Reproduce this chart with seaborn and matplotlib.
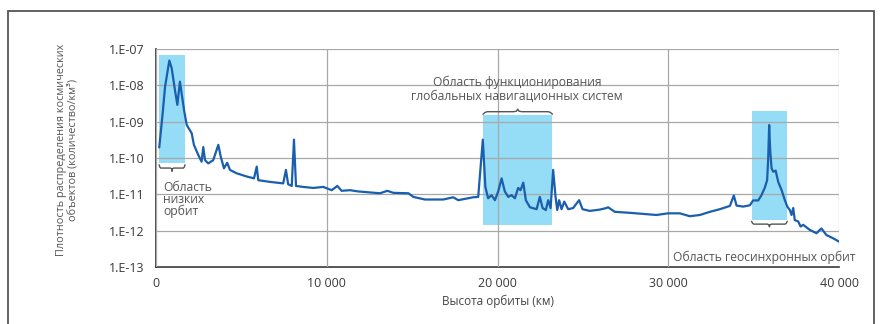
import numpy as np
import pandas as pd
import matplotlib.pyplot as plt
import seaborn as sns
from matplotlib.patches import Rectangle

sns.set_theme(style="white")
plt.rcParams['font.family'] = ['Open Sans', 'DejaVu Sans']

# Orbit altitude (km) and density of space objects (count/km^3)
altitude_km = [
    190, 390, 530, 780, 920, 1110, 1250, 1400, 1500, 1660, 1800, 2090, 2220, 2480, 2670,
    2770, 2870, 3060, 3350, 3650, 3790, 3980, 4170, 4330, 4720, 5310, 5740, 5900, 5990,
    6680, 7450, 7610, 7740, 7950, 8080, 8200, 8620, 9210, 9800, 10290, 10620, 10870,
    11360, 11850, 13120, 13550, 13900, 14780, 15070, 15750, 16820, 17410, 17700, 18580,
    18870, 19140, 19290, 19450, 19650, 19850, 20040, 20240, 20430, 20630, 20820, 21020,
    21210, 21350, 21510, 21660, 21900, 22290, 22480, 22640, 22830, 22970, 23110, 23260,
    23400, 23500, 23610, 23750, 23910, 24140, 24430, 24780, 24980, 25400, 25990, 26380,
    26480, 26870, 27750, 28530, 29310, 29990, 30680, 31260, 31850, 32440, 33020, 33610,
    33840, 34000, 34390, 34780, 34970, 35270, 35460, 35660, 35790, 35850, 35910, 35970,
    36050, 36150, 36290, 36440, 36640, 36830, 36970, 37120, 37220, 37320, 37410, 37610,
    37750, 37900, 38290, 38680, 38970, 39260, 39650, 40000,
]
density = [
    1.95e-10, 1.7e-9, 9.1e-9, 4.8e-8, 2.95e-8, 7.4e-9, 2.9e-9, 1.26e-8, 6.0e-9, 1.86e-9,
    8.1e-10, 4.8e-10, 2.3e-10, 1.2e-10, 7.9e-11, 2.0e-10, 8.7e-11, 7.1e-11, 8.7e-11,
    2.3e-10, 1.1e-10, 5.2e-11, 7.4e-11, 4.7e-11, 3.8e-11, 3.1e-11, 2.75e-11, 5.8e-11,
    2.45e-11, 2.2e-11, 2.0e-11, 4.7e-11, 1.9e-11, 1.7e-11, 3.2e-10, 1.7e-11, 1.6e-11,
    1.5e-11, 1.6e-11, 1.3e-11, 1.7e-11, 1.25e-11, 1.3e-11, 1.2e-11, 1.07e-11, 1.25e-11,
    1.1e-11, 1.07e-11, 8.5e-12, 7.2e-12, 7.2e-12, 8.3e-12, 6.9e-12, 8.3e-12, 8.5e-12,
    3.2e-10, 1.6e-11, 7.8e-12, 9.5e-12, 6.9e-12, 1.2e-11, 2.75e-11, 1.2e-11, 8.5e-12,
    9.5e-12, 7.8e-12, 1.5e-11, 1.3e-11, 2.1e-11, 6.9e-12, 4.4e-12, 3.9e-12, 8.5e-12,
    4.2e-12, 3.7e-12, 6.9e-12, 4.2e-12, 4.7e-11, 8.5e-12, 3.7e-12, 6.9e-12, 3.9e-12,
    6.3e-12, 3.9e-12, 4.2e-12, 6.9e-12, 3.9e-12, 3.5e-12, 3.8e-12, 4.2e-12, 4.4e-12,
    3.3e-12, 3.1e-12, 2.9e-12, 2.7e-12, 3.0e-12, 3.0e-12, 2.5e-12, 2.7e-12, 3.3e-12,
    3.9e-12, 4.8e-12, 9.3e-12, 4.9e-12, 4.6e-12, 5.0e-12, 6.8e-12, 6.8e-12, 9.5e-12,
    1.55e-11, 2.45e-11, 8.7e-11, 8.1e-10, 1.66e-10, 5.2e-11, 4.2e-11, 4.5e-11, 2.2e-11,
    1.3e-11, 6.9e-12, 4.6e-12, 3.7e-12, 2.7e-12, 4.2e-12, 1.95e-12, 1.8e-12, 1.3e-12,
    1.45e-12, 1.05e-12, 8.5e-13, 1.15e-12, 7.6e-13, 6.2e-13, 5.0e-13,
]

# Highlighted regions: (x from, x to), (y from, y to)
region_names = ["leo", "gnss", "geo"]
region_x = [(180, 1700), (19150, 23220), (34880, 36970)]
region_y = [(7.1e-11, 6.8e-8), (1.4e-12, 1.5e-9), (1.95e-12, 1.95e-9)]

y_ticks = [1e-13, 1e-12, 1e-11, 1e-10, 1e-9, 1e-8, 1e-7]
y_tick_labels = ["1.E-13", "1.E-12", "1.E-11", "1.E-10", "1.E-09", "1.E-08", "1.E-07"]
x_ticks = [0, 10000, 20000, 30000, 40000]
x_tick_labels = ["0", "10 000", "20 000", "30 000", "40 000"]

df = pd.DataFrame({"altitude": altitude_km, "density": density})

fig = plt.figure(figsize=(8.8, 3.24), dpi=100)
ax = fig.add_axes([156 / 880, 1 - 267 / 324, (839 - 156) / 880, (267 - 49) / 324])

# outer frame around the whole figure
fig.patches.append(Rectangle((8 / 880, -0.05), 866 / 880, 1.05 - 11 / 324,
                             transform=fig.transFigure, fill=False,
                             edgecolor="#555555", linewidth=1.3))

for (x0, x1), (y0, y1) in zip(region_x, region_y):
    ax.add_patch(Rectangle((x0, y0), x1 - x0, y1 - y0, facecolor="#95dcf6",
                           edgecolor="none", zorder=1))

sns.lineplot(data=df, x="altitude", y="density", ax=ax, color="#1a5fae",
             linewidth=1.6, zorder=3)
for ln in ax.lines:
    ln.set_solid_joinstyle("round")
    ln.set_solid_capstyle("round")
ax.set_yscale("log")
ax.set_xlim(0, 40000)
ax.set_ylim(1e-13, 1e-7)

ax.set_yticks(y_ticks)
ax.set_yticklabels(y_tick_labels)
ax.set_xticks(x_ticks)
ax.set_xticklabels(x_tick_labels)
ax.minorticks_off()
ax.tick_params(axis="both", labelsize=9, colors="#333333", labelcolor="#3a3a3a",
               direction="inout", length=5, width=1)
ax.tick_params(axis="x", pad=5)
ax.tick_params(axis="y", pad=6)

ax.grid(True, color="#a8a8a8", linewidth=0.9, zorder=2)
ax.set_axisbelow(False)
for s in ["top", "right"]:
    ax.spines[s].set_visible(False)
for s in ["left", "bottom"]:
    ax.spines[s].set_color("#333333")
    ax.spines[s].set_linewidth(1.2)

ax.set_xlabel("Высота орбиты (км)", fontsize=8.5, color="#444444", labelpad=3)
ax.set_ylabel("")
fig.text(67 / 880, 1 - 150 / 324,
         "Плотность распределения космических\nобъектов (количество/км³)",
         rotation=90, ha="center", va="center", fontsize=7.8, color="#555555",
         linespacing=1.1)


def brace(x0, x1, y_base, decades, up):
    # small curly brace, drawn in log space
    mid = (x0 + x1) / 2
    dx = (x1 - x0) * 0.06
    sgn = 1 if up else -1
    ly = np.log10(y_base)
    xs = [x0, x0 + dx * 0.5, x0 + dx, mid - dx, mid - dx * 0.3, mid,
          mid + dx * 0.3, mid + dx, x1 - dx, x1 - dx * 0.5, x1]
    ys = [0, 0.35, 0.5, 0.5, 0.6, 1.0, 0.6, 0.5, 0.5, 0.35, 0]
    ys = [10 ** (ly + sgn * decades * v) for v in ys]
    ax.plot(xs, ys, color="#555555", linewidth=1, zorder=4, clip_on=False)


brace(180, 1700, 6.5e-11, 0.18, up=False)
brace(19150, 23220, 1.6e-9, 0.14, up=True)
brace(34880, 36970, 1.8e-12, 0.15, up=False)

ax.text(410, 2.4e-11, "Область\nнизких\nорбит", ha="left", va="top",
        fontsize=8.7, color="#555555", linespacing=0.92)
ax.text(21150, 1.8e-8, "Область функционирования\nглобальных навигационных систем",
        ha="center", va="top", fontsize=8.7, color="#555555", linespacing=1.0)
ax.text(30270, 1.9e-13, "Область геосинхронных орбит", ha="left", va="center",
        fontsize=8.7, color="#555555")

plt.savefig("out.png", dpi=100)
